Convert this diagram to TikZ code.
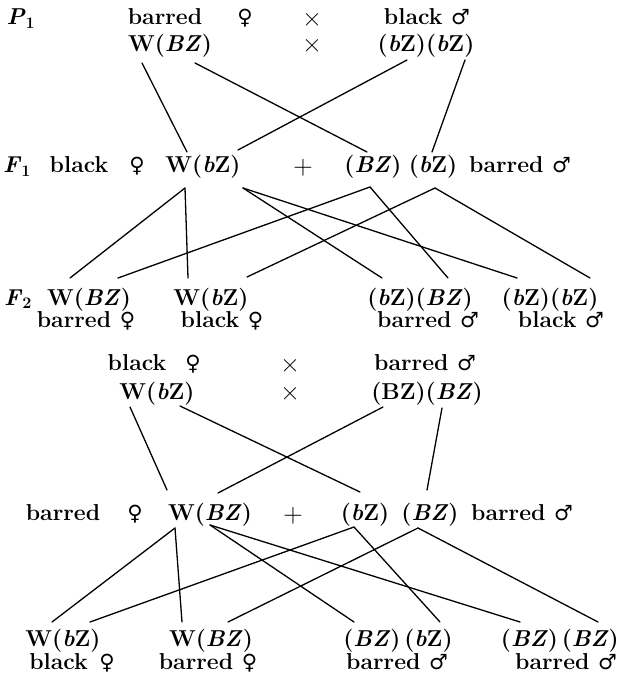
\documentclass[tikz,border=0pt]{standalone}
\usepackage{fontspec}
\newfontfamily\symf{DejaVu Sans}
\newcommand{\fem}{{\symf\mdseries\fontsize{21}{24}\selectfont ♀}}
\newcommand{\mal}{{\symf\mdseries\fontsize{21}{24}\selectfont ♂}}
\newcommand{\tms}{{\mdseries\fontsize{27}{28}\selectfont ×}}
\newcommand{\pls}{{\mdseries\fontsize{27}{28}\selectfont +}}
\newcommand{\ib}[1]{\textit{#1}}
\begin{document}
\begin{tikzpicture}[x=1pt,y=-1pt,
  txt/.style={anchor=base, inner sep=0pt, font=\fontsize{23}{27}\selectfont\bfseries},
  ln/.style={line width=1.3pt, line cap=round}]
\useasboundingbox (0,0) rectangle (620,676);
% ---------- P1 ----------
\node[txt] (p1) at (21,25) {\ib{P}\textsubscript{1}};
\node[txt] (p1f) at (165,25) {barred};
\node[txt] (p1fs) at (245,25) {\fem};
\node[txt] (p1x) at (312,27) {\tms};
\node[txt] (p1m) at (427,25) {black \mal};
\node[txt] (p1fg) at (170,52) {W(\ib{BZ})};
\node[txt] (p1x2) at (312,53) {\tms};
\node[txt] (p1mg) at (426,52) {(\ib{b}Z)(\ib{b}Z)};
% ---------- F1 ----------
\node[txt] (f1) at (17,173) {\ib{F}\textsubscript{1}};
\node[txt] (f1f) at (79,173) {black};
\node[txt] (f1fs) at (137,173) {\fem};
\node[txt] (f1fg) at (203,173) {W(\ib{b}Z)};
\node[txt] (f1p) at (303,175) {\pls};
\node[txt] (f1mg1) at (373,173) {(\ib{BZ})};
\node[txt] (f1mg2) at (433,173) {(\ib{b}Z)};
\node[txt] (f1m) at (520,173) {barred \mal};
% ---------- F2 ----------
\node[txt] (f2) at (18,305) {\ib{F}\textsubscript{2}};
\node[txt] (f2a) at (89,305) {W(\ib{BZ})};
\node[txt] (f2b) at (211,305) {W(\ib{b}Z)};
\node[txt] (f2c) at (420,305) {(\ib{b}Z)(\ib{BZ})};
\node[txt] (f2d) at (550,305) {(\ib{b}Z)(\ib{b}Z)};
\node[txt] (f2ap) at (86,327) {barred \fem};
\node[txt] (f2bp) at (222,327) {black \fem};
\node[txt] (f2cp) at (428,327) {barred \mal};
\node[txt] (f2dp) at (561,327) {black \mal};
% ---------- second cross ----------
\node[txt] (q1f) at (137,370) {black};
\node[txt] (q1fs) at (193,370) {\fem};
\node[txt] (q1x) at (290,372) {\tms};
\node[txt] (q1m) at (425,370) {barred \mal};
\node[txt] (q1fg) at (157,399) {W(\ib{b}Z)};
\node[txt] (q1x2) at (290,400) {\tms};
\node[txt] (q1mg) at (427,399) {(BZ)(\ib{BZ})};
% ---------- F1' ----------
\node[txt] (g1f) at (63,520) {barred};
\node[txt] (g1fs) at (135,520) {\fem};
\node[txt] (g1fg) at (210,520) {W(\ib{BZ})};
\node[txt] (g1p) at (293,522) {\pls};
\node[txt] (g1mg1) at (365,520) {(\ib{b}Z)};
\node[txt] (g1mg2) at (430,520) {(\ib{BZ})};
\node[txt] (g1m) at (522,520) {barred \mal};
% ---------- F2' ----------
\node[txt] (g2a) at (63,646) {W(\ib{b}Z)};
\node[txt] (g2b) at (211,646) {W(\ib{BZ})};
\node[txt] (g2c) at (398,646) {(\ib{BZ})\,(\ib{b}Z)};
\node[txt, anchor=base east] (g2d) at (619,646) {(\ib{BZ})\,(\ib{BZ})};
\node[txt] (g2ap) at (72,669) {black\enspace\fem};
\node[txt] (g2bp) at (208,669) {barred \fem};
\node[txt] (g2cp) at (397,669) {barred \mal};
\node[txt] (g2dp) at (566,669) {barred \mal};
% ---------- connector ends ----------
\coordinate (a1) at (142,63); \coordinate (a2) at (195,63);
\coordinate (a3) at (407,60); \coordinate (a4) at (465,60);
\coordinate (b1) at (187,152); \coordinate (b2) at (238,150);
\coordinate (b3) at (367,152); \coordinate (b4) at (432,152);
\coordinate (c1) at (185,188); \coordinate (c2) at (243,188);
\coordinate (c3) at (370,187); \coordinate (c4) at (435,188);
\coordinate (d1) at (70,278); \coordinate (d2) at (118,278);
\coordinate (d3) at (188,278); \coordinate (d4) at (247,277);
\coordinate (d5) at (382,278); \coordinate (d6) at (448,278);
\coordinate (d7) at (517,278); \coordinate (d8) at (590,278);
\coordinate (e1) at (130,407); \coordinate (e2) at (180,406);
\coordinate (e3) at (383,407); \coordinate (e4) at (442,408);
\coordinate (h1f) at (167,490); \coordinate (h2f) at (218,493);
\coordinate (h3f) at (360,492); \coordinate (h4f) at (427,490);
\coordinate (k1) at (175,528); \coordinate (k2) at (210,525);
\coordinate (k3) at (354,527); \coordinate (k4) at (418,528);
\coordinate (m1) at (52,622); \coordinate (m2) at (90,622);
\coordinate (m3) at (182,622); \coordinate (m4) at (228,622);
\coordinate (m5) at (354,622); \coordinate (m6) at (440,622);
\coordinate (m7) at (520,622); \coordinate (m8) at (598,622);
% ---------- connectors ----------
\draw[ln] (a1) -- (b1);
\draw[ln] (a2) -- (b3);
\draw[ln] (a3) -- (b2);
\draw[ln] (a4) -- (b4);
\draw[ln] (c1) -- (d1);
\draw[ln] (c1) -- (d3);
\draw[ln] (c2) -- (d5);
\draw[ln] (c2) -- (d7);
\draw[ln] (c3) -- (d2);
\draw[ln] (c3) -- (d6);
\draw[ln] (c4) -- (d4);
\draw[ln] (c4) -- (d8);
\draw[ln] (e1) -- (h1f);
\draw[ln] (e2) -- (h3f);
\draw[ln] (e3) -- (h2f);
\draw[ln] (e4) -- (h4f);
\draw[ln] (k1) -- (m1);
\draw[ln] (k1) -- (m3);
\draw[ln] (k2) -- (m5);
\draw[ln] (k2) -- (m7);
\draw[ln] (k3) -- (m2);
\draw[ln] (k3) -- (m6);
\draw[ln] (k4) -- (m4);
\draw[ln] (k4) -- (m8);
\end{tikzpicture}
\end{document}
